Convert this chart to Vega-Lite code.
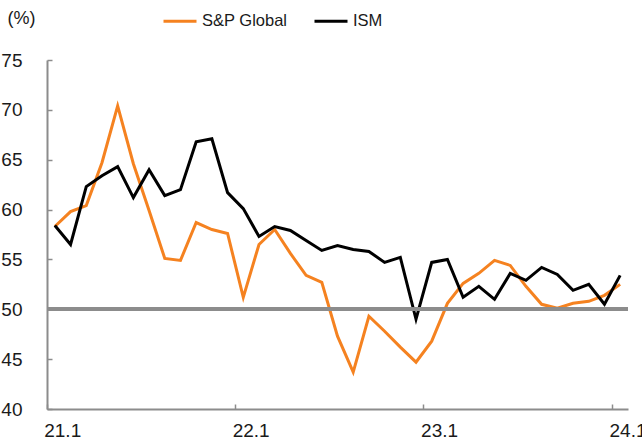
{
  "$schema": "https://vega.github.io/schema/vega-lite/v6.json",
  "width": 581,
  "height": 349,
  "autosize": {"type": "none"},
  "padding": {"left": 47, "top": 60, "right": 14, "bottom": 37},
  "config": {"view": {"stroke": null}, "font": "Liberation Sans"},
  "data": {"values": [
    {"month": "2021-01", "series": "S&P Global", "value": 58.3},
    {"month": "2021-02", "series": "S&P Global", "value": 59.8},
    {"month": "2021-03", "series": "S&P Global", "value": 60.4},
    {"month": "2021-04", "series": "S&P Global", "value": 64.7},
    {"month": "2021-05", "series": "S&P Global", "value": 70.4},
    {"month": "2021-06", "series": "S&P Global", "value": 64.6},
    {"month": "2021-07", "series": "S&P Global", "value": 59.9},
    {"month": "2021-08", "series": "S&P Global", "value": 55.1},
    {"month": "2021-09", "series": "S&P Global", "value": 54.9},
    {"month": "2021-10", "series": "S&P Global", "value": 58.7},
    {"month": "2021-11", "series": "S&P Global", "value": 58.0},
    {"month": "2021-12", "series": "S&P Global", "value": 57.6},
    {"month": "2022-01", "series": "S&P Global", "value": 51.2},
    {"month": "2022-02", "series": "S&P Global", "value": 56.5},
    {"month": "2022-03", "series": "S&P Global", "value": 58.0},
    {"month": "2022-04", "series": "S&P Global", "value": 55.6},
    {"month": "2022-05", "series": "S&P Global", "value": 53.4},
    {"month": "2022-06", "series": "S&P Global", "value": 52.7},
    {"month": "2022-07", "series": "S&P Global", "value": 47.3},
    {"month": "2022-08", "series": "S&P Global", "value": 43.7},
    {"month": "2022-09", "series": "S&P Global", "value": 49.3},
    {"month": "2022-10", "series": "S&P Global", "value": 47.8},
    {"month": "2022-11", "series": "S&P Global", "value": 46.2},
    {"month": "2022-12", "series": "S&P Global", "value": 44.7},
    {"month": "2023-01", "series": "S&P Global", "value": 46.8},
    {"month": "2023-02", "series": "S&P Global", "value": 50.6},
    {"month": "2023-03", "series": "S&P Global", "value": 52.6},
    {"month": "2023-04", "series": "S&P Global", "value": 53.6},
    {"month": "2023-05", "series": "S&P Global", "value": 54.9},
    {"month": "2023-06", "series": "S&P Global", "value": 54.4},
    {"month": "2023-07", "series": "S&P Global", "value": 52.3},
    {"month": "2023-08", "series": "S&P Global", "value": 50.5},
    {"month": "2023-09", "series": "S&P Global", "value": 50.1},
    {"month": "2023-10", "series": "S&P Global", "value": 50.6},
    {"month": "2023-11", "series": "S&P Global", "value": 50.8},
    {"month": "2023-12", "series": "S&P Global", "value": 51.4},
    {"month": "2024-01", "series": "S&P Global", "value": 52.5},
    {"month": "2021-01", "series": "ISM", "value": 58.4},
    {"month": "2021-02", "series": "ISM", "value": 56.5},
    {"month": "2021-03", "series": "ISM", "value": 62.3},
    {"month": "2021-04", "series": "ISM", "value": 63.4},
    {"month": "2021-05", "series": "ISM", "value": 64.3},
    {"month": "2021-06", "series": "ISM", "value": 61.2},
    {"month": "2021-07", "series": "ISM", "value": 64.0},
    {"month": "2021-08", "series": "ISM", "value": 61.4},
    {"month": "2021-09", "series": "ISM", "value": 62.0},
    {"month": "2021-10", "series": "ISM", "value": 66.8},
    {"month": "2021-11", "series": "ISM", "value": 67.1},
    {"month": "2021-12", "series": "ISM", "value": 61.7},
    {"month": "2022-01", "series": "ISM", "value": 60.1},
    {"month": "2022-02", "series": "ISM", "value": 57.3},
    {"month": "2022-03", "series": "ISM", "value": 58.3},
    {"month": "2022-04", "series": "ISM", "value": 57.9},
    {"month": "2022-05", "series": "ISM", "value": 56.9},
    {"month": "2022-06", "series": "ISM", "value": 55.9},
    {"month": "2022-07", "series": "ISM", "value": 56.4},
    {"month": "2022-08", "series": "ISM", "value": 56.0},
    {"month": "2022-09", "series": "ISM", "value": 55.8},
    {"month": "2022-10", "series": "ISM", "value": 54.7},
    {"month": "2022-11", "series": "ISM", "value": 55.2},
    {"month": "2022-12", "series": "ISM", "value": 49.0},
    {"month": "2023-01", "series": "ISM", "value": 54.7},
    {"month": "2023-02", "series": "ISM", "value": 55.0},
    {"month": "2023-03", "series": "ISM", "value": 51.2},
    {"month": "2023-04", "series": "ISM", "value": 52.3},
    {"month": "2023-05", "series": "ISM", "value": 51.0},
    {"month": "2023-06", "series": "ISM", "value": 53.6},
    {"month": "2023-07", "series": "ISM", "value": 52.9},
    {"month": "2023-08", "series": "ISM", "value": 54.2},
    {"month": "2023-09", "series": "ISM", "value": 53.5},
    {"month": "2023-10", "series": "ISM", "value": 51.9},
    {"month": "2023-11", "series": "ISM", "value": 52.5},
    {"month": "2023-12", "series": "ISM", "value": 50.5},
    {"month": "2024-01", "series": "ISM", "value": 53.4}
  ]},
  "layer": [
    {
      "mark": {"type": "line", "strokeWidth": 3},
      "encoding": {
        "x": {
          "field": "month", "type": "ordinal", "bandPosition": 0.5,
          "scale": {"type": "band", "paddingInner": 0, "paddingOuter": 0},
          "axis": {
            "values": ["2021-01", "2022-01", "2023-01", "2024-01"],
            "labelExpr": "slice(datum.value, 2, 4) + '.' + toNumber(slice(datum.value, 5, 7))",
            "bandPosition": 0, "labelOffset": 7.85, "labelAngle": 0,
            "tickSize": -5, "tickColor": "#8c8c8c", "tickWidth": 1.5,
            "domainColor": "#8c8c8c", "domainWidth": 2,
            "labelFontSize": 19, "labelColor": "#1a1a1a", "labelPadding": 17,
            "labelOverlap": false, "labelBound": false,
            "title": null, "grid": false
          }
        },
        "y": {
          "field": "value", "type": "quantitative",
          "scale": {"domain": [40, 75], "nice": false, "zero": false},
          "axis": {
            "values": [40, 45, 50, 55, 60, 65, 70, 75],
            "tickSize": -5, "tickColor": "#8c8c8c", "tickWidth": 1.5,
            "domainColor": "#8c8c8c", "domainWidth": 2,
            "labelFontSize": 19, "labelColor": "#1a1a1a", "labelPadding": 30,
            "grid": false,
            "title": "(%)", "titleAngle": 0, "titleX": -40, "titleY": -42,
            "titleAlign": "left", "titleBaseline": "middle",
            "titleFontSize": 18, "titleFontWeight": "normal", "titleColor": "#1a1a1a"
          }
        },
        "color": {
          "field": "series", "type": "nominal",
          "scale": {"domain": ["S&P Global", "ISM"], "range": ["#f58220", "#000000"]},
          "legend": {
            "orient": "none", "legendX": 115, "legendY": -57, "direction": "horizontal",
            "title": null, "symbolType": "stroke", "symbolSize": 1089, "symbolStrokeWidth": 3,
            "labelFontSize": 16.5, "labelColor": "#1a1a1a", "labelOffset": 4, "columnPadding": 20
          }
        }
      }
    },
    {
      "mark": {"type": "rule", "color": "#8c8c8c", "strokeWidth": 3},
      "encoding": {"y": {"datum": 50}}
    }
  ]
}
